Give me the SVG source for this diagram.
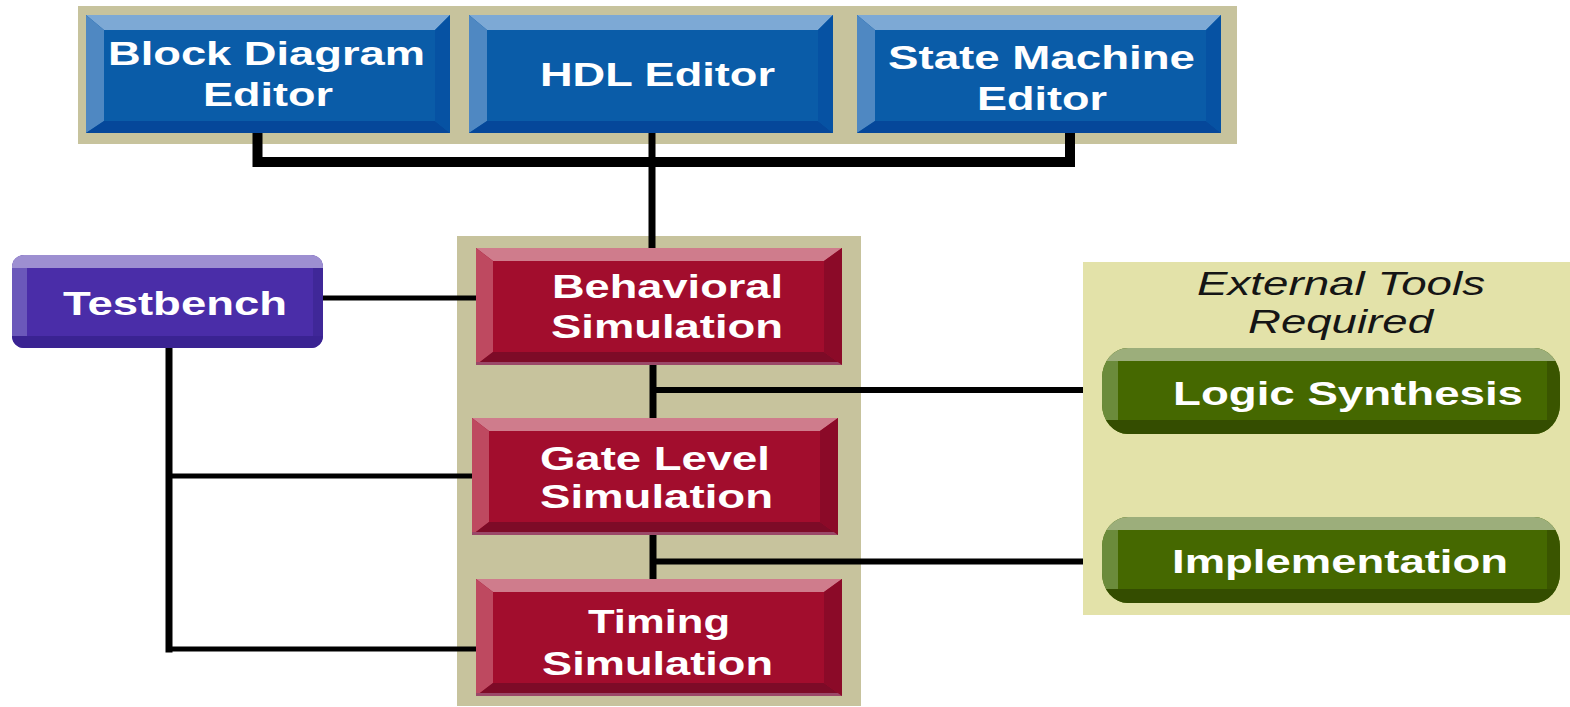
<svg xmlns="http://www.w3.org/2000/svg" xmlns:xlink="http://www.w3.org/1999/xlink" width="1570" height="707" viewBox="0 0 1570 707">
<style>
.lbl{font-family:"Liberation Sans",Arial,sans-serif;font-weight:bold;font-size:33px;fill:#ffffff;text-anchor:middle}
.ext{font-family:"Liberation Sans",Arial,sans-serif;font-style:italic;font-size:34px;fill:#151515;text-anchor:middle}
.panel{fill:#C7C39D}
.wire{fill:none;stroke:#000;stroke-linejoin:miter;stroke-linecap:butt}
</style>
<defs>
<g id="bluebox">
<rect width="364" height="118" fill="#0A5CA8"/>
<polygon points="0,0 364,0 349,15 18,15" fill="#7DA9D5"/>
<polygon points="0,0 18,15 18,106 0,118" fill="#4F88C2"/>
<polygon points="0,118 18,106 349,106 364,118" fill="#05479A"/>
<polygon points="364,0 349,15 349,106 364,118" fill="#0652A3"/>
</g>
<g id="redbox">
<rect width="366" height="117" fill="#A20D2D"/>
<polygon points="0,0 366,0 348,13 17,13" fill="#CF7C8C"/>
<polygon points="0,0 17,13 17,104 0,117" fill="#BE4960"/>
<polygon points="0,117 17,104 348,104 366,117" fill="#7D0B27"/>
<rect y="114" width="366" height="3" fill="#9B4868"/>
<polygon points="366,0 348,13 348,104 366,117" fill="#8B0A28"/>
</g>
<clipPath id="pillclip"><rect width="458" height="86" rx="26" ry="30"/></clipPath>
<g id="greenpill">
<g clip-path="url(#pillclip)">
<rect width="458" height="86" fill="#456800"/>
<rect width="458" height="13" fill="#9CAE7B"/>
<rect y="13" width="16" height="59" fill="#6B8B3B"/>
<rect y="72" width="458" height="14" fill="#344D00"/>
<rect x="445" y="13" width="13" height="59" fill="#3A5500"/>
</g>
</g>
<clipPath id="tbclip"><rect x="12" y="255" width="311" height="93" rx="12"/></clipPath>
</defs>
<rect width="1570" height="707" fill="#ffffff"/>
<g id="panels">
<rect class="panel" x="78" y="6" width="1159" height="138"/>
<rect class="panel" x="457" y="236" width="404" height="470"/>
<rect x="1083" y="262" width="487" height="353" fill="#E3E2A9"/>
</g>
<g id="connectors">
<path class="wire" stroke-width="10" d="M257.5,133 V162 H1070 V133"/>
<path class="wire" stroke-width="7" d="M652,133 V250"/>
<path class="wire" stroke-width="7" d="M653,365 V418"/>
<path class="wire" stroke-width="6" d="M653,390 H1083"/>
<path class="wire" stroke-width="7" d="M653,535 V579"/>
<path class="wire" stroke-width="6" d="M653,561.5 H1083"/>
<path class="wire" stroke-width="5" d="M323,298 H476"/>
<path class="wire" stroke-width="7" d="M169,348 V652.5"/>
<path class="wire" stroke-width="5" d="M169,476 H472"/>
<path class="wire" stroke-width="5" d="M169,649 H476"/>
</g>
<g id="block-diagram-editor">
<use xlink:href="#bluebox" x="86" y="15"/>
<text class="lbl" x="266.5" y="65" textLength="317" lengthAdjust="spacingAndGlyphs">Block Diagram</text>
<text class="lbl" x="268" y="106" textLength="130" lengthAdjust="spacingAndGlyphs">Editor</text>
</g>
<g id="hdl-editor">
<use xlink:href="#bluebox" x="469" y="15"/>
<text class="lbl" x="657.5" y="86" textLength="235" lengthAdjust="spacingAndGlyphs">HDL Editor</text>
</g>
<g id="state-machine-editor">
<use xlink:href="#bluebox" x="857" y="15"/>
<text class="lbl" x="1041.5" y="69" textLength="307" lengthAdjust="spacingAndGlyphs">State Machine</text>
<text class="lbl" x="1042" y="110" textLength="130" lengthAdjust="spacingAndGlyphs">Editor</text>
</g>
<g id="testbench">
<g clip-path="url(#tbclip)">
<rect x="12" y="255" width="311" height="93" fill="#4A2DA8"/>
<rect x="12" y="255" width="311" height="13" fill="#9D8FD1"/>
<rect x="12" y="268" width="15" height="68" fill="#6B58BA"/>
<rect x="12" y="336" width="311" height="12" fill="#3A2392"/>
<rect x="313" y="268" width="10" height="68" fill="#3F2798"/>
</g>
<text class="lbl" x="175" y="315" textLength="224" lengthAdjust="spacingAndGlyphs">Testbench</text>
</g>
<g id="behavioral-simulation">
<use xlink:href="#redbox" x="476" y="248"/>
<text class="lbl" x="667.5" y="298" textLength="231" lengthAdjust="spacingAndGlyphs">Behavioral</text>
<text class="lbl" x="667" y="338" textLength="232" lengthAdjust="spacingAndGlyphs">Simulation</text>
</g>
<g id="gate-level-simulation">
<use xlink:href="#redbox" x="472" y="418"/>
<text class="lbl" x="655" y="470" textLength="230" lengthAdjust="spacingAndGlyphs">Gate Level</text>
<text class="lbl" x="656.5" y="508" textLength="233" lengthAdjust="spacingAndGlyphs">Simulation</text>
</g>
<g id="timing-simulation">
<use xlink:href="#redbox" x="476" y="579"/>
<text class="lbl" x="659" y="633" textLength="142" lengthAdjust="spacingAndGlyphs">Timing</text>
<text class="lbl" x="657.5" y="675" textLength="231" lengthAdjust="spacingAndGlyphs">Simulation</text>
</g>
<g id="external-tools">
<text class="ext" x="1341" y="295" textLength="288" lengthAdjust="spacingAndGlyphs">External Tools</text>
<text class="ext" x="1340.5" y="333" textLength="185" lengthAdjust="spacingAndGlyphs">Required</text>
</g>
<g id="logic-synthesis">
<use xlink:href="#greenpill" x="1102" y="348"/>
<text class="lbl" x="1348" y="405" textLength="350" lengthAdjust="spacingAndGlyphs">Logic Synthesis</text>
</g>
<g id="implementation">
<use xlink:href="#greenpill" x="1102" y="517"/>
<text class="lbl" x="1340" y="573" textLength="336" lengthAdjust="spacingAndGlyphs">Implementation</text>
</g>
</svg>
